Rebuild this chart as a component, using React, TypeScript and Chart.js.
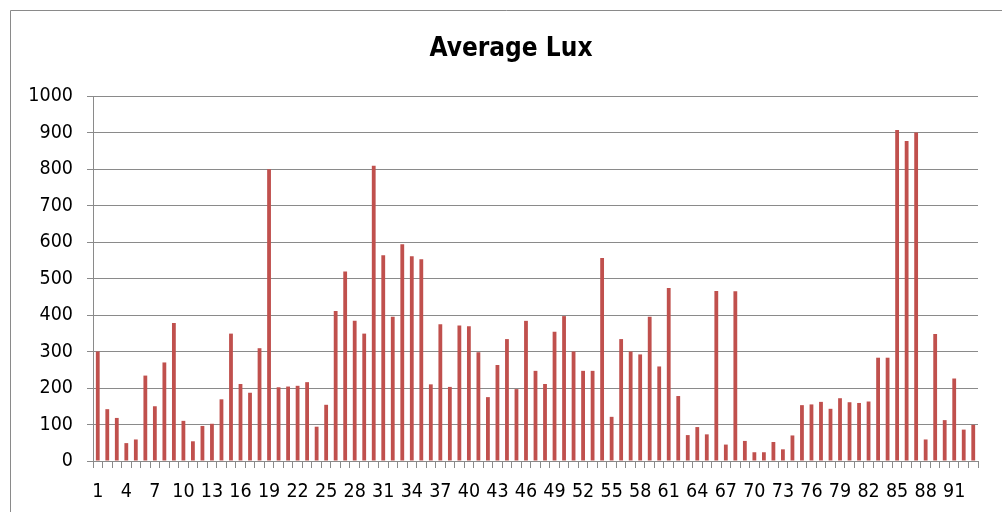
import React, { useEffect, useRef } from "react";
import { Chart, registerables } from "chart.js";

Chart.register(...registerables);

const categories: string[] = [
  "1","2","3","4","5","6","7","8","9","10",
  "11","12","13","14","15","16","17","18","19","20",
  "21","22","23","24","25","26","27","28","29","30",
  "31","32","33","34","35","36","37","38","39","40",
  "41","42","43","44","45","46","47","48","49","50",
  "51","52","53","54","55","56","57","58","59","60",
  "61","62","63","64","65","66","67","68","69","70",
  "71","72","73","74","75","76","77","78","79","80",
  "81","82","83","84","85","86","87","88","89","90",
  "91","92","93",
];

const averageLux: number[] = [
  300, 142, 118, 49, 59, 234, 150, 270, 378, 110,
  54, 96, 102, 169, 349, 211, 187, 309, 799, 202,
  204, 206, 216, 94, 154, 411, 519, 384, 349, 809,
  564, 395, 594, 561, 553, 210, 375, 203, 371, 369,
  298, 175, 263, 334, 197, 384, 247, 211, 354, 397,
  300, 247, 247, 556, 121, 334, 300, 292, 395, 259,
  474, 178, 71, 93, 73, 466, 45, 465, 55, 24,
  24, 52, 32, 70, 153, 155, 162, 143, 172, 161,
  159, 163, 283, 283, 907, 877, 900, 59, 348, 112,
  226, 86, 99,
];

const chartTitle = "Average Lux";
const yMin = 0;
const yMax = 1000;
const yStep = 100;
const labelEvery = 3;

const FONT = "'DejaVu Sans Condensed', 'DejaVu Sans', sans-serif";
const GRID = "#8a8a8a";

const frame = {
  id: "frame",
  beforeDraw(chart: any) {
    const ctx = chart.ctx;
    ctx.save();
    ctx.fillStyle = "#ffffff";
    ctx.fillRect(0, 0, chart.width, chart.height);
    ctx.strokeStyle = GRID;
    ctx.lineWidth = 1;
    ctx.beginPath();
    ctx.moveTo(10.5, chart.height);
    ctx.lineTo(10.5, 10.5);
    ctx.lineTo(chart.width, 10.5);
    ctx.stroke();
    ctx.fillStyle = "#000000";
    ctx.font = "bold 26px " + FONT;
    ctx.textAlign = "center";
    ctx.textBaseline = "alphabetic";
    ctx.fillText(chartTitle, 511, 56);
    ctx.restore();
  },
};

export default function App() {
  const ref = useRef<HTMLCanvasElement | null>(null);

  useEffect(() => {
    if (!ref.current) return;
    const chart = new Chart(ref.current, {
      type: "bar",
      data: {
        labels: categories,
        datasets: [
          {
            label: chartTitle,
            data: averageLux,
            backgroundColor: "#C0504D",
            borderWidth: 0,
            barPercentage: 0.4,
            categoryPercentage: 1,
          },
        ],
      },
      options: {
        animation: false,
        responsive: false,
        devicePixelRatio: 1,
        layout: { padding: { top: 96, left: 0, right: 24, bottom: 0 } },
        plugins: {
          legend: { display: false },
          tooltip: { enabled: false },
          title: { display: false },
        },
        scales: {
          x: {
            offset: true,
            grid: {
              display: true,
              drawOnChartArea: false,
              drawTicks: true,
              tickLength: 7,
              color: GRID,
              offset: true,
            },
            border: { display: true, color: GRID, width: 1 },
            ticks: {
              autoSkip: false,
              maxRotation: 0,
              minRotation: 0,
              padding: 12,
              color: "#000000",
              font: { family: FONT, size: 19.5 },
              callback: (_v: any, i: number) =>
                i % labelEvery === 0 ? categories[i] : "",
            },
            afterFit: (scale: any) => {
              scale.height = 51;
            },
          },
          y: {
            min: yMin,
            max: yMax,
            grid: {
              color: GRID,
              lineWidth: 1,
              drawTicks: true,
              tickLength: 6,
            },
            border: { display: true, color: GRID, width: 1 },
            ticks: {
              stepSize: yStep,
              padding: 14,
              color: "#000000",
              font: { family: FONT, size: 19.5 },
              callback: (v: any) => String(v),
            },
            afterFit: (scale: any) => {
              scale.width = 93;
            },
          },
        },
      },
      plugins: [frame],
    });
    return () => chart.destroy();
  }, []);

  return (
    <div
      style={{
        position: "fixed",
        left: 0,
        top: 0,
        width: 1002,
        height: 512,
        overflow: "hidden",
        background: "#fff",
      }}
    >
      <canvas ref={ref} width={1002} height={512} />
    </div>
  );
}
